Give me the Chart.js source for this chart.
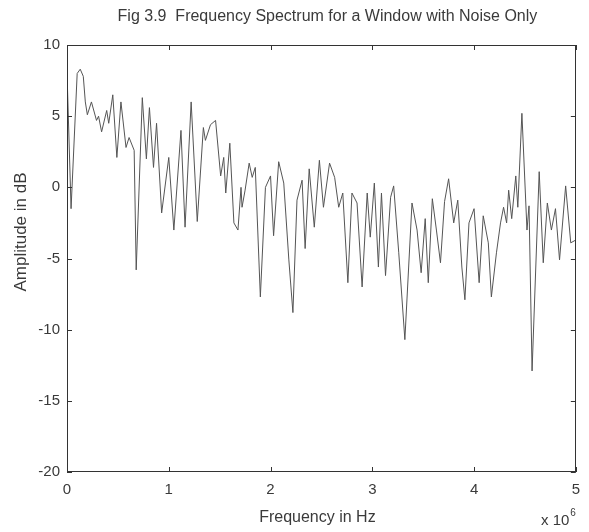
<!DOCTYPE html>
<html>
<head>
<meta charset="utf-8">
<script src="https://cdn.jsdelivr.net/npm/chart.js@4/dist/chart.umd.min.js"></script>
<style>
  html, body { margin: 0; padding: 0; background: #fff; }
  #wrap { width: 589px; height: 532px; }
</style>
</head>
<body>
<div id="wrap"><canvas id="c" width="589" height="532"></canvas></div>
<script>
// Frequency axis in units of 10^6 Hz
const freqMHz = [
  0.00, 0.04, 0.10, 0.13, 0.16, 0.18, 0.20, 0.24, 0.29, 0.31,
  0.34, 0.39, 0.41, 0.45, 0.49, 0.53, 0.58, 0.61, 0.66, 0.68,
  0.74, 0.78, 0.81, 0.85, 0.88, 0.93, 1.00, 1.05, 1.12, 1.16,
  1.22, 1.28, 1.34, 1.36, 1.41, 1.46, 1.51, 1.54, 1.56, 1.60,
  1.64, 1.68, 1.71, 1.72, 1.75, 1.79, 1.82, 1.85, 1.90, 1.95,
  2.00, 2.03, 2.08, 2.13, 2.18, 2.22, 2.26, 2.31, 2.34, 2.38,
  2.43, 2.48, 2.52, 2.58, 2.63, 2.67, 2.71, 2.76, 2.80, 2.85,
  2.90, 2.95, 2.98, 3.02, 3.06, 3.09, 3.13, 3.18, 3.21, 3.26,
  3.32, 3.39, 3.44, 3.48, 3.52, 3.55, 3.59, 3.63, 3.67, 3.71,
  3.75, 3.80, 3.84, 3.88, 3.91, 3.95, 4.00, 4.05, 4.09, 4.14,
  4.17, 4.22, 4.26, 4.29, 4.32, 4.34, 4.37, 4.41, 4.43, 4.47,
  4.52, 4.54, 4.57, 4.64, 4.68, 4.72, 4.76, 4.80, 4.84, 4.90,
  4.95, 5.00
];

// Spectrum amplitude in dB
const amplitudeDb = [
  8.1, -1.5, 8.0, 8.3, 7.8, 6.0, 5.1, 6.0, 4.7, 5.0,
  3.9, 5.4, 4.5, 6.5, 2.1, 6.0, 2.8, 3.5, 2.6, -5.8,
  6.3, 2.0, 5.6, 1.4, 4.5, -1.8, 2.1, -3.0, 4.0, -2.8,
  6.0, -2.4, 4.2, 3.3, 4.4, 4.7, 0.8, 2.1, -0.4, 3.1,
  -2.5, -3.0, 0.0, -1.4, -0.2, 1.7, 0.7, 1.4, -7.7, 0.0,
  0.8, -3.4, 1.8, 0.3, -5.1, -8.8, -0.9, 0.5, -4.3, 1.3,
  -2.8, 1.9, -1.4, 1.7, 0.7, -1.4, -0.4, -6.7, -0.4, -1.1,
  -7.0, -0.4, -3.5, 0.3, -5.6, -0.4, -6.2, -0.7, 0.1, -4.6,
  -10.7, -1.1, -3.0, -6.0, -2.2, -6.7, -0.8, -3.0, -5.3, -1.0,
  0.6, -2.5, -0.9, -5.6, -7.9, -2.5, -1.5, -6.7, -2.0, -3.9,
  -7.7, -4.6, -2.5, -1.4, -2.5, -0.2, -2.2, 0.8, -1.4, 5.2,
  -3.0, -1.3, -12.9, 1.1, -5.3, -1.1, -3.0, -1.5, -5.1, 0.1,
  -3.9, -3.7
];

const xTicks = [0, 1, 2, 3, 4, 5];
const yTicks = [-20, -15, -10, -5, 0, 5, 10];

const titleText = 'Fig 3.9  Frequency Spectrum for a Window with Noise Only';
const xLabel = 'Frequency in Hz';
const yLabel = 'Amplitude in dB';
const xExponentBase = 'x 10';
const xExponent = '6';

const FONT = '"Liberation Sans", Arial, Helvetica, sans-serif';
const INK = '#3a3a3a';
const AXIS = '#333333';

const points = freqMHz.map((f, i) => ({ x: f, y: amplitudeDb[i] }));

// Axes box, inward tick marks on all four sides, title and axis labels
const matlabAxes = {
  id: 'matlabAxes',
  afterDatasetsDraw(chart) {
    const { ctx, chartArea: a, scales } = chart;
    const xs = scales.x, ys = scales.y;
    const len = 5;
    ctx.save();
    ctx.strokeStyle = AXIS;
    ctx.lineWidth = 1;
    ctx.strokeRect(Math.round(a.left) + 0.5, Math.round(a.top) + 0.5,
                   Math.round(a.right - a.left) - 1, Math.round(a.bottom - a.top) - 1);
    ctx.beginPath();
    xTicks.forEach(v => {
      const px = Math.round(xs.getPixelForValue(v)) + 0.5;
      ctx.moveTo(px, a.bottom); ctx.lineTo(px, a.bottom - len);
      ctx.moveTo(px, a.top); ctx.lineTo(px, a.top + len);
    });
    yTicks.forEach(v => {
      const py = Math.round(ys.getPixelForValue(v)) + 0.5;
      ctx.moveTo(a.left, py); ctx.lineTo(a.left + len, py);
      ctx.moveTo(a.right, py); ctx.lineTo(a.right - len, py);
    });
    ctx.stroke();
    ctx.restore();
  },
  afterDraw(chart) {
    const { ctx, chartArea: a } = chart;
    const cx = (a.left + a.right) / 2;
    ctx.save();
    ctx.fillStyle = INK;
    ctx.textAlign = 'center';
    ctx.textBaseline = 'middle';
    ctx.font = '16px ' + FONT;
    ctx.fillText(titleText, cx + 6, 17);
    ctx.font = '16px ' + FONT;
    ctx.fillText(xLabel, cx - 4, 518);
    ctx.save();
    ctx.translate(21, 232);
    ctx.rotate(-Math.PI / 2);
    ctx.font = '17px ' + FONT;
    ctx.fillText(yLabel, 0, 0);
    ctx.restore();
    ctx.textAlign = 'left';
    ctx.textBaseline = 'alphabetic';
    ctx.font = '15px ' + FONT;
    ctx.fillText(xExponentBase, 541, 525);
    const w = ctx.measureText(xExponentBase).width;
    ctx.font = '10px ' + FONT;
    ctx.fillText(xExponent, 541 + w + 1, 516);
    ctx.restore();
  }
};

new Chart(document.getElementById('c'), {
  type: 'line',
  data: {
    datasets: [{
      data: points,
      borderColor: '#555555',
      borderWidth: 1,
      pointRadius: 0,
      tension: 0,
      fill: false
    }]
  },
  options: {
    responsive: false,
    animation: false,
    devicePixelRatio: 1,
    layout: { padding: { top: 45, right: 6, left: 0, bottom: 0 } },
    plugins: { legend: { display: false }, tooltip: { enabled: false }, title: { display: false } },
    scales: {
      x: {
        type: 'linear',
        min: 0, max: 5,
        afterBuildTicks: s => { s.ticks = xTicks.map(v => ({ value: v })); },
        afterFit: s => { s.height = 60; },
        grid: { display: false, tickLength: 0 },
        border: { display: false },
        ticks: { color: INK, font: { family: FONT, size: 15 }, padding: 9, maxRotation: 0 }
      },
      y: {
        min: -20, max: 10,
        afterBuildTicks: s => { s.ticks = yTicks.map(v => ({ value: v })); },
        afterFit: s => { s.width = 67; },
        grid: { display: false, tickLength: 0 },
        border: { display: false },
        ticks: { color: INK, font: { family: FONT, size: 15 }, padding: 7 }
      }
    }
  },
  plugins: [matlabAxes]
});
</script>
</body>
</html>
